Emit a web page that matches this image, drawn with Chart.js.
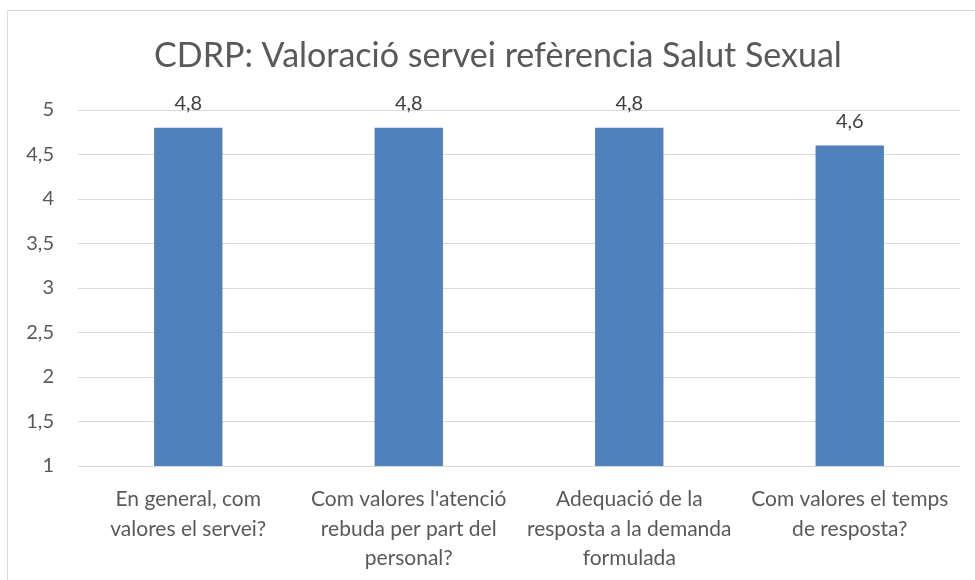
<!DOCTYPE html>
<html>
<head>
<meta charset="utf-8">
<script src="https://cdn.jsdelivr.net/npm/chart.js@4"></script>
<style>
  body { margin: 0; background: #fff; overflow: hidden; }
  #wrap { position: relative; width: 975px; height: 580px; }
  #frame { position: absolute; left: 7px; top: 10px; width: 1000px; height: 600px;
           border: 1px solid #d9d9d9; pointer-events: none; }
</style>
</head>
<body>
<div id="wrap">
  <canvas id="chartTS" width="975" height="580"></canvas>
  <div id="frame"></div>
</div>
<script>
const title = 'CDRP: Valoració servei refèrencia Salut Sexual';
const categories = [
    ["En general, com", "valores el servei?"],
    ["Com valores l'atenció", "rebuda per part del", "personal?"],
    ["Adequació de la", "resposta a la demanda", "formulada"],
    ["Com valores el temps", "de resposta?"]
];
const values = [4.8, 4.8, 4.8, 4.6];
const yTicks = [1, 1.5, 2, 2.5, 3, 3.5, 4, 4.5, 5];

const fmt = v => String(v).replace('.', ',');

// value labels above each bar + the title (centred like the excel chart, which is wider than the picture)
const extras = {
    id: 'extras',
    afterDatasetsDraw(chart) {
        const ctx = chart.ctx;
        const meta = chart.getDatasetMeta(0);
        ctx.save();
        ctx.font = '20px Lato';
        ctx.fillStyle = '#404040';
        ctx.textAlign = 'center';
        ctx.textBaseline = 'middle';
        meta.data.forEach((bar, i) => {
            ctx.fillText(fmt(values[i]), bar.x, bar.y - 24);
        });
        ctx.font = '34px Lato';
        ctx.fillStyle = '#595959';
        ctx.fillText(title, 498, 56);
        ctx.restore();
    }
};

const data = {
    labels: categories,
    datasets: [{
        data: values,
        backgroundColor: '#4f81bd',
        barPercentage: 0.31,
        categoryPercentage: 1
    }]
};

const config = {
    type: 'bar',
    data: data,
    plugins: [extras],
    options: {
        responsive: false,
        animation: false,
        layout: { padding: { left: 22, right: 15, top: 110, bottom: 0 } },
        plugins: {
            legend: { display: false },
            tooltip: { enabled: false },
            title: { display: false }
        },
        scales: {
            x: {
                grid: { display: false },
                border: { display: false },
                ticks: {
                    color: '#595959',
                    font: { family: 'Lato', size: 21, lineHeight: 1.39 },
                    padding: 11,
                    maxRotation: 0,
                    autoSkip: false
                },
                afterFit(scale) { scale.height = 114; }
            },
            y: {
                min: 1,
                max: 5,
                afterBuildTicks(scale) { scale.ticks = yTicks.map(v => ({ value: v })); },
                grid: { color: '#d9d9d9', drawTicks: false },
                border: { display: false },
                ticks: {
                    color: '#595959',
                    font: { family: 'Lato', size: 20 },
                    padding: 24,
                    callback: v => fmt(v)
                },
                afterFit(scale) { scale.width = 56; }
            }
        }
    }
};

const myChart = new Chart(document.getElementById('chartTS'), config);
</script>
</body>
</html>
